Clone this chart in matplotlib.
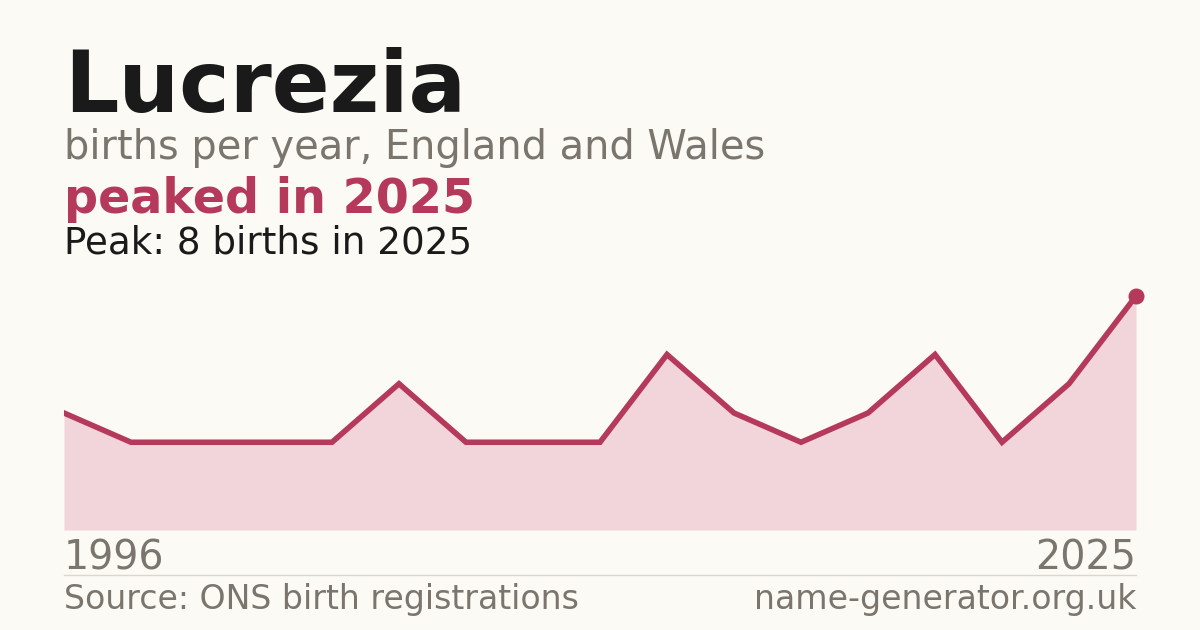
import matplotlib
matplotlib.use("Agg")
import matplotlib.pyplot as plt

# datos (nacimientos por anio registrado)
nombre = "Lucrezia"
subtitulo = "births per year, England and Wales"
titular = "peaked in 2025"
nota_pico = "Peak: 8 births in 2025"
anio_inicio = "1996"
anio_fin = "2025"
nacimientos = [4, 3, 3, 3, 3, 5, 3, 3, 3, 6, 4, 3, 4, 6, 3, 5, 8]
fuente = "Source: ONS birth registrations"
sitio = "name-generator.org.uk"

fondo = "#FBFAF5"
carmesi = "#B5395A"
relleno = "#F2D5DA"
gris = "#7A756D"
negro = "#1A1A1A"

W, H = 1200, 630
fig = plt.figure(figsize=(W / 100, H / 100), dpi=100, facecolor=fondo)

def fy(px):
    # pasar coordenada en pixeles (desde arriba) a fraccion de figura
    return 1 - px / H

# area del grafico: x 64..1136, y=0 en 530, escala 29.25 px por nacimiento
ymax = 8.4
alto_px = ymax * 29.25
ax = fig.add_axes([64 / W, (H - 530) / H, 1072 / W, alto_px / H])
ax.set_facecolor(fondo)
xs = list(range(len(nacimientos)))
ax.fill_between(xs, nacimientos, 0, color=relleno, linewidth=0)
ax.plot(xs, nacimientos, color=carmesi, linewidth=4.0, solid_joinstyle="miter")
ax.plot(xs[-1], nacimientos[-1], "o", color=carmesi, markersize=10.5, clip_on=False)
ax.set_xlim(0, len(nacimientos) - 1)
ax.set_ylim(0, ymax)
ax.axis("off")

fig.text(64 / W, fy(112), nombre, fontsize=61.5, fontweight="bold", color=negro, va="baseline")
fig.text(64 / W, fy(159), subtitulo, fontsize=28.7, color=gris, va="baseline")
fig.text(64 / W, fy(213), titular, fontsize=34.3, fontweight="bold", color=carmesi, va="baseline")
fig.text(64 / W, fy(253), nota_pico, fontsize=26.8, color=negro, va="baseline")

fig.text(64 / W, fy(570), anio_inicio, fontsize=28.5, color=gris, va="baseline")
fig.text(1136 / W, fy(570), anio_fin, fontsize=28.5, color=gris, va="baseline", ha="right")

# linea separadora
fig.add_artist(plt.Line2D([64 / W, 1136 / W], [fy(574.5), fy(574.5)], color="#DAD7D0", linewidth=1))

fig.text(64 / W, fy(609), fuente, fontsize=23.9, color=gris, va="baseline")
fig.text(1136 / W, fy(609), sitio, fontsize=23.9, color=gris, va="baseline", ha="right")

fig.savefig("out.png", dpi=100, facecolor=fondo)
